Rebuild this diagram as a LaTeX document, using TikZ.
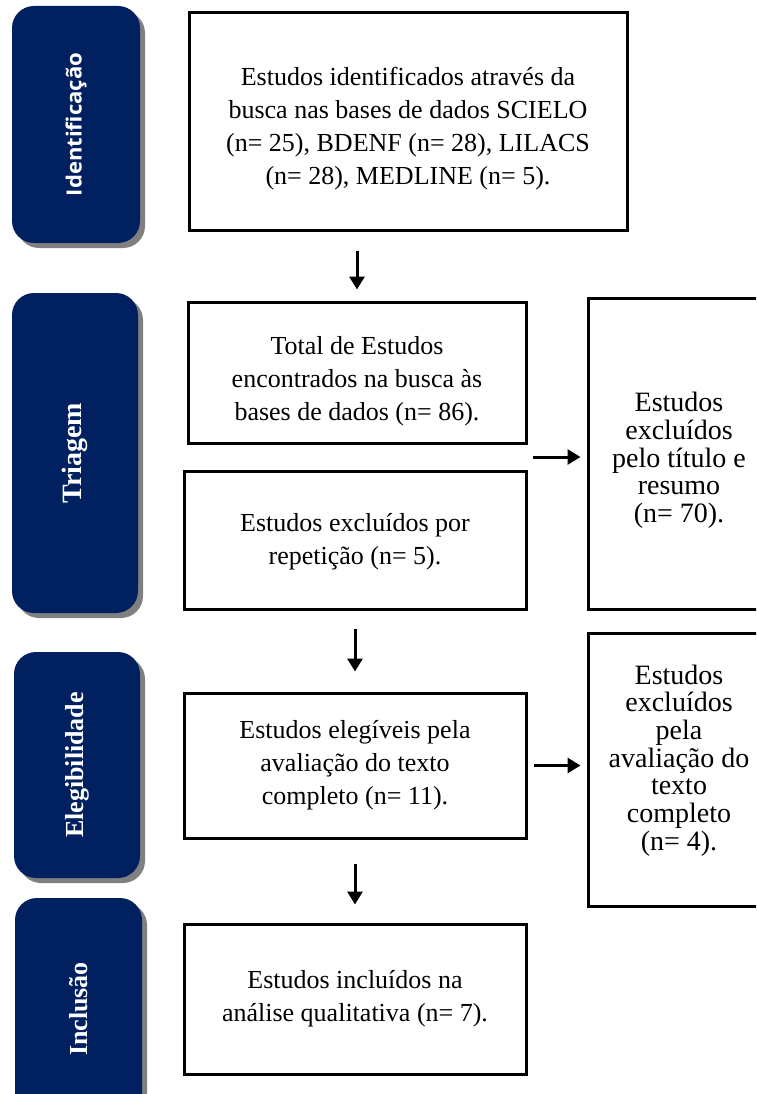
\documentclass[tikz,border=0pt]{standalone}
\usepackage{fontspec}
\setmainfont{Liberation Serif}
\newfontfamily\tabsans{Open Sans}
\usetikzlibrary{arrows.meta,shadows,calc}
\definecolor{navy}{HTML}{002060}
\definecolor{shadowgray}{HTML}{808080}
\tikzset{
  box/.style={draw=black, line width=3pt, rectangle, inner sep=0pt, align=center,
    font=\fontsize{26}{33}\selectfont},
  sidebox/.style={draw=black, line width=3pt, rectangle, inner sep=0pt, align=center,
    font=\fontsize{28}{27.5}\selectfont},
  tab/.style={fill=navy, rounded corners=22pt, inner sep=0pt, text=white,
    drop shadow={shadow xshift=5pt, shadow yshift=-5pt, fill=shadowgray, opacity=1}},
  serifhead/.style={font=\fontsize{26}{30}\selectfont\bfseries},
  sanshead/.style={font=\tabsans\fontsize{21}{25}\selectfont\bfseries},
  arr/.style={line width=3pt, -{Triangle[width=15pt,length=13pt]}},
}
\newcommand{\shifted}[2]{\raisebox{#1}[\height][\depth]{\begin{tabular}{@{}c@{}}#2\end{tabular}}}
\begin{document}
\begin{tikzpicture}[x=1pt,y=-1pt]
\useasboundingbox (0,0) rectangle (756,1094);
\clip (0,0) rectangle (756,1094);
% phase tabs
\node[tab, sanshead, minimum width=128pt, minimum height=237pt] (t1) at (76,124.5)
  {\rotatebox{90}{\scalebox{1.05}[1]{Identificação}}};
\node[tab, serifhead, minimum width=126pt, minimum height=320pt] (t2) at (75,453)
  {\rotatebox{90}{\fontsize{28}{30}\selectfont Triagem}};
\node[tab, serifhead, minimum width=126pt, minimum height=226pt] (t3) at (77,765)
  {\rotatebox{90}{Elegibilidade}};
\node[tab, serifhead, minimum width=127pt, minimum height=222pt] (t4) at (78.5,1009)
  {\rotatebox{90}{Inclusão}};
% main boxes
\node[box, minimum width=438pt, minimum height=217pt] (b1) at (408,121.5)
  {\shifted{-7pt}{Estudos identificados através da\\busca nas bases de dados SCIELO\\(n= 25), BDENF (n= 28), LILACS\\(n= 28), MEDLINE (n= 5).}};
\node[box, minimum width=338pt, minimum height=141pt] (b2) at (357,372.5)
  {\shifted{-8pt}{Total de Estudos\\encontrados na busca às\\bases de dados (n= 86).}};
\node[box, minimum width=342pt, minimum height=138pt] (b3) at (355,540)
  {\shifted{-1pt}{Estudos excluídos por\\repetição (n= 5).}};
\node[box, minimum width=342pt, minimum height=145pt] (b4) at (355,765.5)
  {Estudos elegíveis pela\\avaliação do texto\\completo (n= 11).};
\node[box, minimum width=342pt, minimum height=150pt] (b5) at (355,999)
  {Estudos incluídos na\\análise qualitativa (n= 7).};
% side boxes
\node[sidebox, minimum width=182pt, minimum height=311pt] (r1) at (679,453.5)
  {\shifted{-8pt}{Estudos\\excluídos\\pelo título e\\resumo\\(n= 70).}};
\node[sidebox, minimum width=182pt, minimum height=273pt] (r2) at (679,769.5)
  {\shifted{8pt}{Estudos\\excluídos\\pela\\avaliação do\\texto\\completo\\(n= 4).}};
% connectors
\draw[arr, shorten <=19pt, shorten >=11pt] (b1.south -| b2.north) -- (b2.north);
\draw[arr, shorten <=18pt, shorten >=20pt] (b3.south -| b4.north) -- (b4.north);
\draw[arr, shorten <=24pt, shorten >=18pt] (b4.south -| b5.north) -- (b5.north);
\coordinate (m1) at ($(b2.south east)!0.5!(b3.north east)$);
\draw[arr, shorten <=5pt, shorten >=6pt] (m1) -- (m1 -| r1.west);
\draw[arr, shorten <=6pt, shorten >=6pt] (b4.east) -- (b4.east -| r2.west);
\end{tikzpicture}
\end{document}
